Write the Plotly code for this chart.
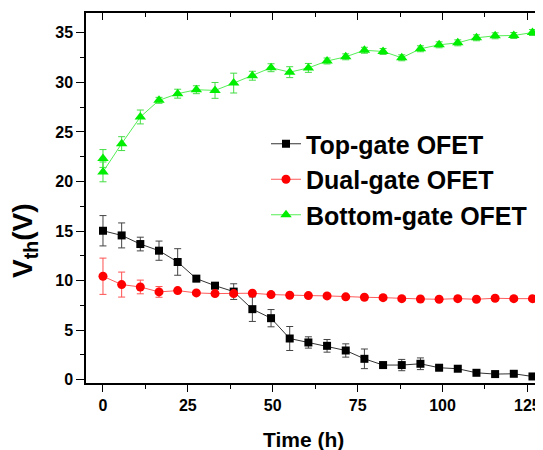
import plotly.graph_objects as go

# ---- data ----
time_h = [0, 5.5, 11, 16.5, 22, 27.5, 33, 38.5, 44, 49.5, 55, 60.5, 66, 71.5, 77,
          82.5, 88, 93.5, 99, 104.5, 110, 115.5, 121, 126.5]

top_gate = [15.03, 14.56, 13.69, 13.02, 11.88, 10.2, 9.49, 8.89, 7.12, 6.21, 4.16, 3.76,
            3.42, 2.95, 2.11, 1.48, 1.48, 1.61, 1.21, 1.11, 0.70, 0.57, 0.60, 0.33]
top_gate_err = [1.53, 1.26, 0.69, 0.97, 1.34, 0.3, 0.3, 0.79, 1.24, 0.87, 1.21, 0.57,
                0.64, 0.67, 0.99, 0.2, 0.57, 0.59, 0.2, 0.2, 0.2, 0.2, 0.2, 0.2]

dual_gate = [10.44, 9.6, 9.36, 8.86, 8.99, 8.76, 8.69, 8.69, 8.73, 8.59, 8.52, 8.49,
             8.46, 8.36, 8.32, 8.28, 8.18, 8.15, 8.12, 8.18, 8.12, 8.22, 8.18, 8.18]
dual_gate_err = [1.83, 1.26, 0.69, 0.54, 0.2, 0.2, 0.2, 0.2, 0.2, 0.2, 0.2, 0.2,
                 0.2, 0.2, 0.2, 0.2, 0.2, 0.2, 0.2, 0.2, 0.2, 0.2, 0.2, 0.2]

bottom_time_h = [0, 0, 5.5, 11, 16.5, 22, 27.5, 33, 38.5, 44, 49.5, 55, 60.5, 66, 71.5,
                 77, 82.5, 88, 93.5, 99, 104.5, 110, 115.5, 121, 126.5]
bottom_gate = [22.32, 20.97, 23.82, 26.51, 28.19, 28.86, 29.26, 29.19, 29.93, 30.67,
               31.48, 31.03, 31.46, 32.16, 32.58, 33.24, 33.12, 32.48, 33.39, 33.79,
               33.99, 34.5, 34.7, 34.73, 35.03]
bottom_gate_err = [0.9, 1.0, 0.7, 0.7, 0.3, 0.45, 0.4, 0.8, 1.0, 0.45, 0.4, 0.55, 0.45,
                   0.3, 0.3, 0.3, 0.3, 0.3, 0.3, 0.3, 0.3, 0.3, 0.3, 0.3, 0.3]

x_ticks = [0, 25, 50, 75, 100, 125]
y_ticks = [0, 5, 10, 15, 20, 25, 30, 35]

FONT = "Liberation Sans, Arial, sans-serif"
X_RANGE = [-5, 129.6]
Y_RANGE = [-0.33, 37]

# the page body has an 8px default margin, so the figure is sized to fit inside it
W, H = 535, 442
ML, MR, MT, MB = 78, 0, 5, 67
PW, PH = W - ML - MR, H - MT - MB

fig = go.Figure()

fig.add_trace(go.Scatter(
    x=time_h, y=top_gate, name="Top-gate OFET", mode="lines+markers",
    line=dict(color="#333333", width=1),
    marker=dict(symbol="square", size=8, color="#000000"),
    error_y=dict(type="data", array=top_gate_err, visible=True,
                 color="#444444", thickness=1, width=3.5),
))
fig.add_trace(go.Scatter(
    x=time_h, y=dual_gate, name="Dual-gate OFET", mode="lines+markers",
    line=dict(color="#ff5a5a", width=1),
    marker=dict(symbol="circle", size=9, color="#ff0000"),
    error_y=dict(type="data", array=dual_gate_err, visible=True,
                 color="#ff5050", thickness=1, width=3.5),
))
fig.add_trace(go.Scatter(
    x=bottom_time_h, y=bottom_gate, name="Bottom-gate OFET", mode="lines+markers",
    line=dict(color="#55ee55", width=1),
    marker=dict(symbol="triangle-up", size=10, color="#00ee00"),
    error_y=dict(type="data", array=bottom_gate_err, visible=True,
                 color="#44dd44", thickness=1, width=3.5),
))

# invisible helper trace to activate mirror axes (top / right ticks pointing inward)
fig.add_trace(go.Scatter(x=[None], y=[None], xaxis="x2", yaxis="y2",
                         showlegend=False, hoverinfo="skip"))

fig.update_layout(
    width=W, height=H,
    margin=dict(l=ML, r=MR, t=MT, b=MB),
    paper_bgcolor="white", plot_bgcolor="white",
    showlegend=True,
    legend=dict(
        x=(258 - ML) / PW, y=1 - (113 - MT) / PH, xanchor="left", yanchor="top",
        font=dict(family=FONT, size=25, color="#000000", weight="bold"),
        bgcolor="rgba(0,0,0,0)", tracegroupgap=0, itemwidth=30,
    ),
    xaxis=dict(
        range=X_RANGE, tickvals=x_ticks, ticktext=[str(v) for v in x_ticks],
        showgrid=False, zeroline=False, showline=True, linecolor="#000000",
        linewidth=1.5, ticks="outside", ticklen=7, tickwidth=1.2, tickcolor="#000000",
        tickfont=dict(family=FONT, size=16, color="#000000", weight="bold"),
        minor=dict(dtick=12.5, tick0=0, ticks="outside", ticklen=4, tickcolor="#000000",
                   tickwidth=1.2, showgrid=False),
        mirror=True,
    ),
    yaxis=dict(
        range=Y_RANGE, tickvals=y_ticks, ticktext=[str(v) for v in y_ticks],
        showgrid=False, zeroline=False, showline=True, linecolor="#000000",
        linewidth=1.5, ticks="outside", ticklen=8, tickwidth=1.2, tickcolor="#000000",
        tickfont=dict(family=FONT, size=16, color="#000000", weight="bold"),
        minor=dict(dtick=2.5, tick0=0, ticks="outside", ticklen=4, tickcolor="#000000",
                   tickwidth=1.2, showgrid=False),
    ),
    xaxis2=dict(
        overlaying="x", side="top", range=X_RANGE,
        tickvals=x_ticks, showticklabels=False, showgrid=False, zeroline=False,
        showline=False, ticks="inside", ticklen=7, tickwidth=1.2, tickcolor="#000000",
        minor=dict(dtick=12.5, tick0=0, ticks="inside", ticklen=4, tickcolor="#000000",
                   tickwidth=1.2, showgrid=False),
    ),
    yaxis2=dict(
        overlaying="y", side="right", range=Y_RANGE,
        tickvals=y_ticks, showticklabels=False, showgrid=False, zeroline=False,
        showline=False, ticks="inside", ticklen=8, tickwidth=1.2, tickcolor="#000000",
        minor=dict(dtick=2.5, tick0=0, ticks="inside", ticklen=4, tickcolor="#000000",
                   tickwidth=1.2, showgrid=False),
    ),
    annotations=[
        dict(text="<b>Time (h)</b>", xref="paper", yref="paper",
             x=(295 - ML) / PW, y=-(431.5 - (MT + PH)) / PH,
             xanchor="center", yanchor="middle", showarrow=False,
             font=dict(family=FONT, size=21, color="#000000")),
        dict(text="<b>V<sub>th</sub>(V)</b>", xref="paper", yref="paper",
             x=-(ML - 17) / PW, y=1 - (232 - MT) / PH,
             xanchor="center", yanchor="middle", textangle=-90, showarrow=False,
             font=dict(family=FONT, size=28, color="#000000")),
    ],
)

fig.write_html("out.html")
